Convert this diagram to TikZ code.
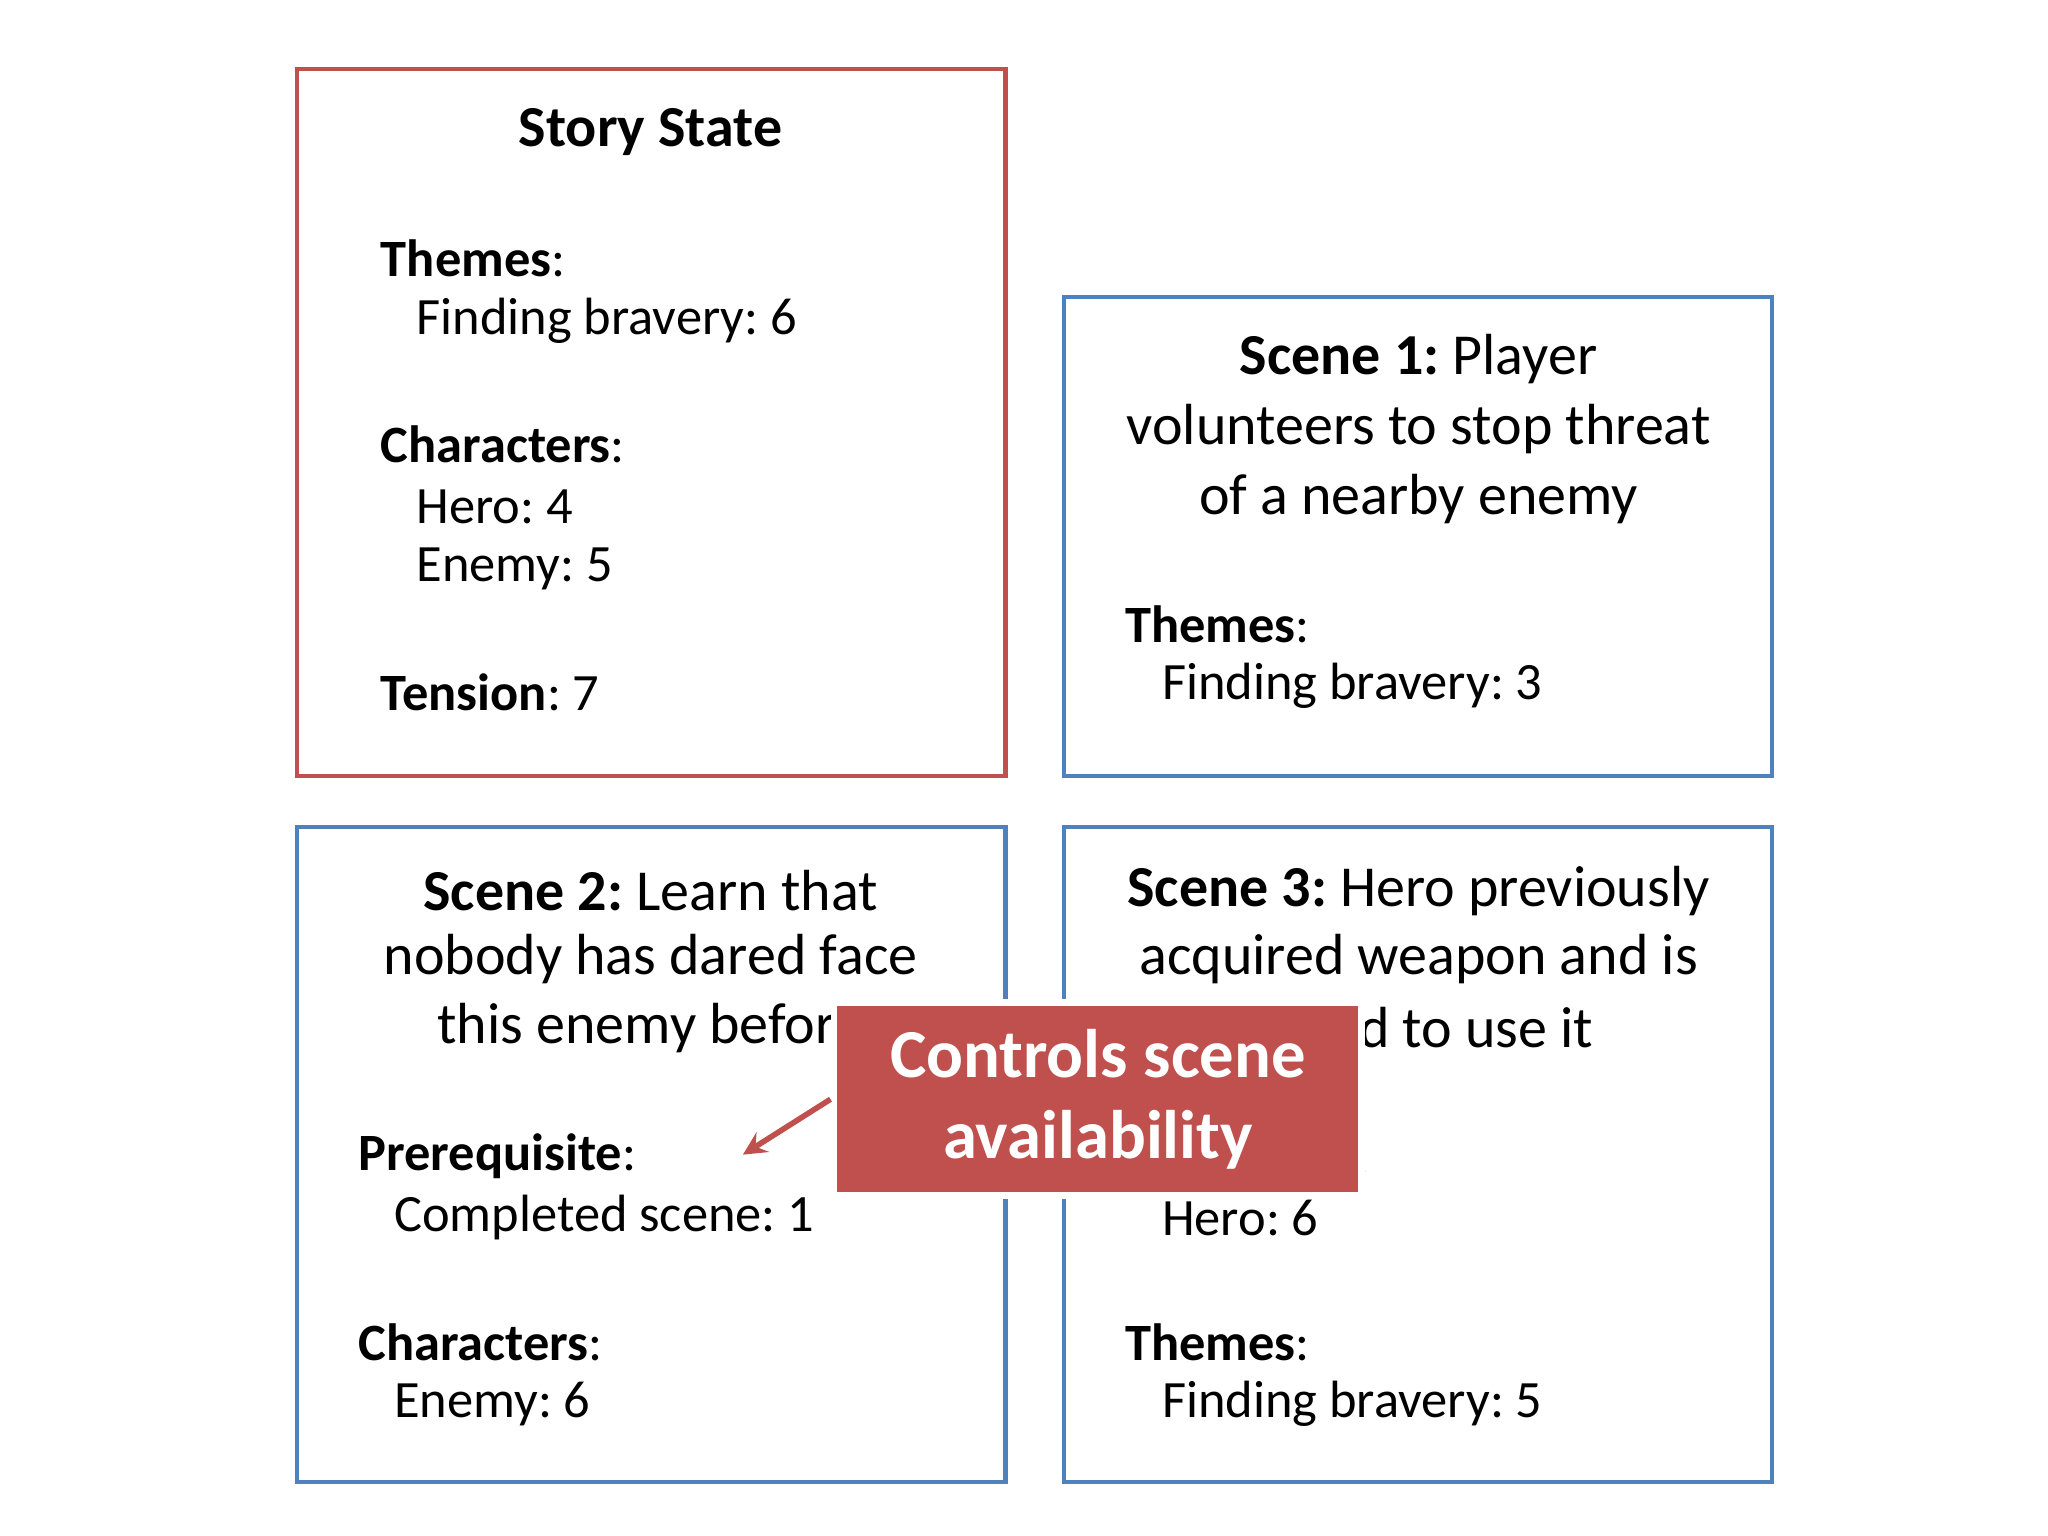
\documentclass[tikz,border=0pt]{standalone}
\usepackage{fontspec}
\setmainfont{Carlito}
\usetikzlibrary{shadows}
\definecolor{bred}{HTML}{C0504D}
\definecolor{bblue}{HTML}{4F81BD}
\begin{document}
\frenchspacing
\begin{tikzpicture}[x=0.01cm,y=-0.01cm,
  box/.style={draw=#1,line width=0.9pt},
  t/.style={anchor=west,inner sep=0pt,font=\fontsize{11.3}{13}\selectfont},
  c/.style={anchor=center,inner sep=0pt,font=\fontsize{12.5}{14}\selectfont}]
\useasboundingbox[fill=white] (0,0) rectangle (1552,1164);
\draw[box=bred] (225,52) rectangle (762,588);
\draw[box=bblue] (806,225) rectangle (1343,588);
\draw[box=bblue] (225,627) rectangle (762,1123);
\draw[box=bblue] (806,627) rectangle (1343,1123);
% story state
\node[c,font=\fontsize{12.5}{14}\selectfont\bfseries] (ss) at (493,100) {Story State};
\node[t] (a1) at (288,196) {\textbf{Themes}:};
\node[t] (a2) at (315,243) {Finding bravery: 6};
\node[t] (a3) at (288,337) {\textbf{Characters}:};
\node[t] (a4) at (315,384) {Hero: 4};
\node[t] (a5) at (315,431) {Enemy: 5};
\node[t] (a6) at (288,525) {\textbf{Tension}: 7};
% scene 1
\node[c] (b1) at (1075,272) {\textbf{Scene 1:} Player};
\node[c] (b2) at (1075,325) {volunteers to stop threat};
\node[c] (b3) at (1075,378) {of a nearby enemy};
\node[t] (b4) at (852,473) {\textbf{Themes}:};
\node[t] (b5) at (880,520) {Finding bravery: 3};
% scene 2
\node[c] (s1) at (493,675) {\textbf{Scene 2:} Learn that};
\node[c] (s2) at (493,727) {nobody has dared face};
\node[c] (s3) at (493,779) {this enemy before};
\node[t] (s4) at (271,876) {\textbf{Prerequisite}:};
\node[t] (s5) at (298,923) {Completed scene: 1};
\node[t] (s6) at (271,1017) {\textbf{Characters}:};
\node[t] (s7) at (298,1064) {Enemy: 6};
% scene 3
\node[c] (d1) at (1075,675) {\textbf{Scene 3:} Hero previously};
\node[c] (d2) at (1075,727) {acquired weapon and is};
\node[anchor=east,inner sep=0pt,font=\fontsize{12.5}{14}\selectfont] (d3) at (1208,779) {trained to use it};
\node[t] (d4) at (852,876) {\textbf{Characters}:};
\node[t] (d5) at (880,923) {Hero: 6};
\node[t] (d6) at (852,1017) {\textbf{Themes}:};
\node[t] (d7) at (880,1064) {Finding bravery: 5};
% callout
\node[draw=white,line width=1.5pt,fill=bred,drop shadow={opacity=0.3,shadow xshift=0.6pt,shadow yshift=-0.6pt},
  minimum width=400*0.01cm,minimum height=146*0.01cm,text=white,align=center,
  font=\fontsize{14.8}{17.6}\selectfont\bfseries] (co) at (832,833) {Controls scene\\availability};
\coordinate (tip) at (563,875);
\draw[bred,line width=1.2pt,-stealth] (co.west) -- (tip);
\end{tikzpicture}
\end{document}
